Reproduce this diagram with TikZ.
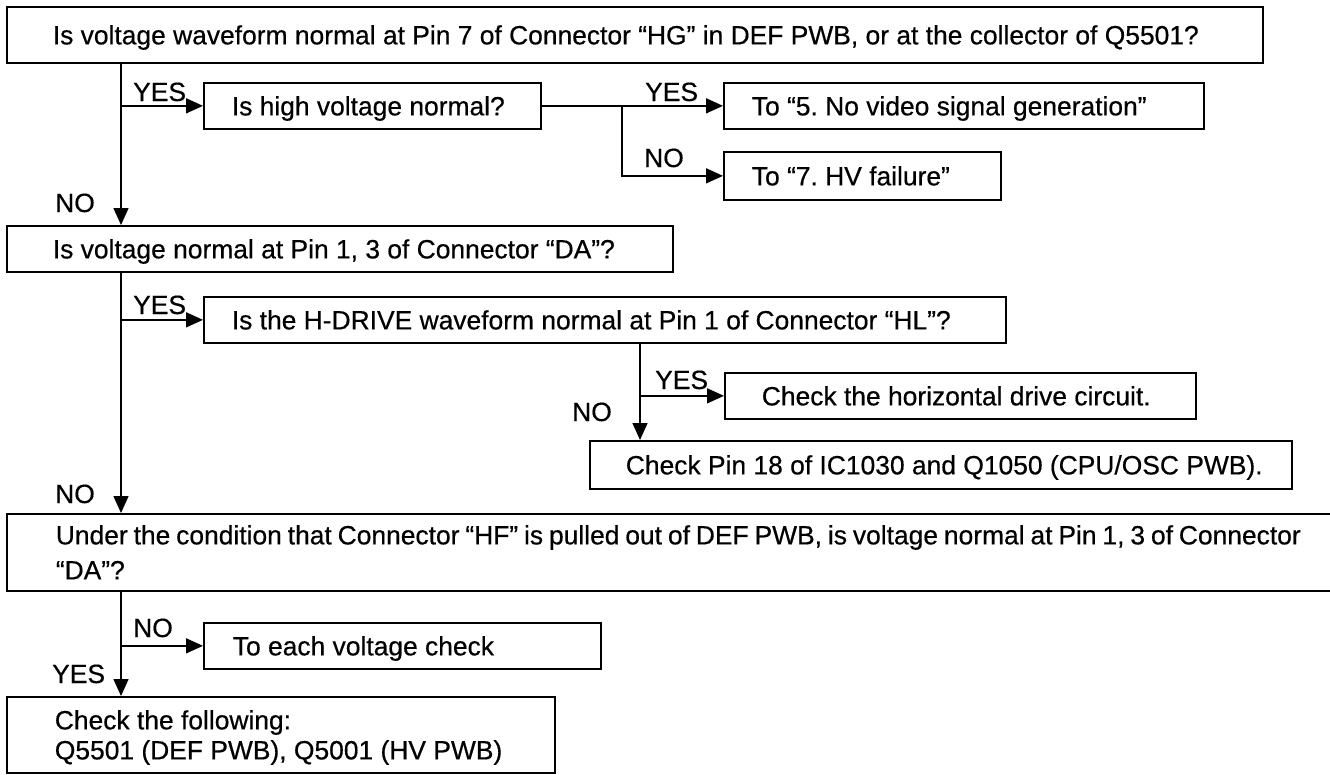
\documentclass[tikz,border=0pt]{standalone}
\usepackage{fontspec}
\setmainfont[FakeBold=0.5]{Liberation Sans}
\usetikzlibrary{arrows.meta}
\newcommand\myfs{\fontsize{26.4}{30}\selectfont\frenchspacing}
\begin{document}
\begin{tikzpicture}[x=1pt,y=-1pt,
  box/.style={draw, line width=1.7pt, anchor=north west, inner ysep=0pt,
    minimum height=46pt, text height=19pt, text depth=0pt, font=\myfs},
  lab/.style={anchor=base west, inner sep=0pt, font=\myfs},
  ln/.style={line width=1.5pt},
  arr/.style={line width=1.5pt, -{Triangle[length=17pt,width=15pt]}}]
\useasboundingbox (0,0) rectangle (1330,774);
\fill[white] (0,0) rectangle (1330,774);
% column coordinates
\coordinate (mx) at (121,0);
\coordinate (sx) at (622,0);
\coordinate (vx) at (640,0);
% boxes
\node[box, minimum height=56pt, minimum width=1256pt, inner xsep=46pt] (q1) at (6,6)
  {\makebox[1164pt][l]{Is voltage waveform normal at Pin 7 of Connector “HG” in DEF PWB, or at the collector of Q5501?}};
\node[box, minimum width=337pt, inner xsep=28pt] (h1) at (203,82)
  {\makebox[281pt][l]{Is high voltage normal?}};
\node[box, minimum width=480pt, inner xsep=28pt] (t5) at (723,82)
  {\makebox[424pt][l]{To “5. No video signal generation”}};
\node[box, minimum height=48pt, minimum width=277pt, inner xsep=28pt] (t7) at (723,151)
  {\makebox[221pt][l]{To “7. HV failure”}};
\node[box, minimum width=666pt, inner xsep=46pt] (q2) at (6,225)
  {\makebox[574pt][l]{Is voltage normal at Pin 1, 3 of Connector “DA”?}};
\node[box, minimum width=802pt, inner xsep=28pt] (q3) at (203,296)
  {\makebox[746pt][l]{Is the H-DRIVE waveform normal at Pin 1 of Connector “HL”?}};
\node[box, minimum width=471pt, inner xsep=37pt] (ch) at (724,372)
  {\makebox[397pt][l]{Check the horizontal drive circuit.}};
\node[box, minimum height=48pt, minimum width=702pt, inner xsep=36pt] (cp) at (589,440)
  {\makebox[630pt][l]{Check Pin 18 of IC1030 and Q1050 (CPU/OSC PWB).}};
\node[box, minimum height=77pt, text depth=35pt, minimum width=1339pt, inner xsep=49pt] (q4) at (6,513)
  {\vtop{\baselineskip=35pt\lineskiplimit=-100pt
   \hbox to 1241pt{\spaceskip=5.9pt plus 1pt Under the condition that Connector “HF” is pulled out of DEF PWB, is voltage normal at Pin 1, 3 of Connector\hss}
   \hbox to 1241pt{“DA”?\hss}}};
\node[box, minimum width=397pt, inner xsep=29pt] (te) at (203,622)
  {\makebox[339pt][l]{To each voltage check}};
\node[box, minimum height=76pt, text depth=30pt, minimum width=548pt, inner xsep=48pt] (cf) at (6,696)
  {\vtop{\baselineskip=30pt\lineskiplimit=-100pt
   \hbox to 452pt{Check the following:\hss}
   \hbox to 452pt{Q5501 (DEF PWB), Q5001 (HV PWB)\hss}}};
% labels
\node[lab] (y1) at (133,101) {YES};
\node[lab] (n1) at (55,212) {NO};
\node[lab] (y1a) at (645,101) {YES};
\node[lab] (n1a) at (644,167) {NO};
\node[lab] (y2) at (133,314) {YES};
\node[lab] (y3) at (655,389) {YES};
\node[lab] (n3) at (572,421) {NO};
\node[lab] (n2) at (55,503) {NO};
\node[lab] (n4) at (133,637) {NO};
\node[lab] (y4) at (52,683) {YES};
% connectors
\draw[arr] (q1.south -| mx) -- (q2.north -| mx);
\draw[arr] (h1.west -| mx) -- (h1.west);
\draw[ln] (h1.east) -- (h1.east -| sx);
\draw[arr] (h1.east -| sx) -- (t5.west);
\draw[arr] (h1.east -| sx) |- (t7.west);
\draw[arr] (q2.south -| mx) -- (q4.north -| mx);
\draw[arr] (q3.west -| mx) -- (q3.west);
\draw[arr] (q3.south -| vx) -- (cp.north -| vx);
\draw[arr] (ch.west -| vx) -- (ch.west);
\draw[arr] (q4.south -| mx) -- (cf.north -| mx);
\draw[arr] (te.west -| mx) -- (te.west);
\end{tikzpicture}
\end{document}
